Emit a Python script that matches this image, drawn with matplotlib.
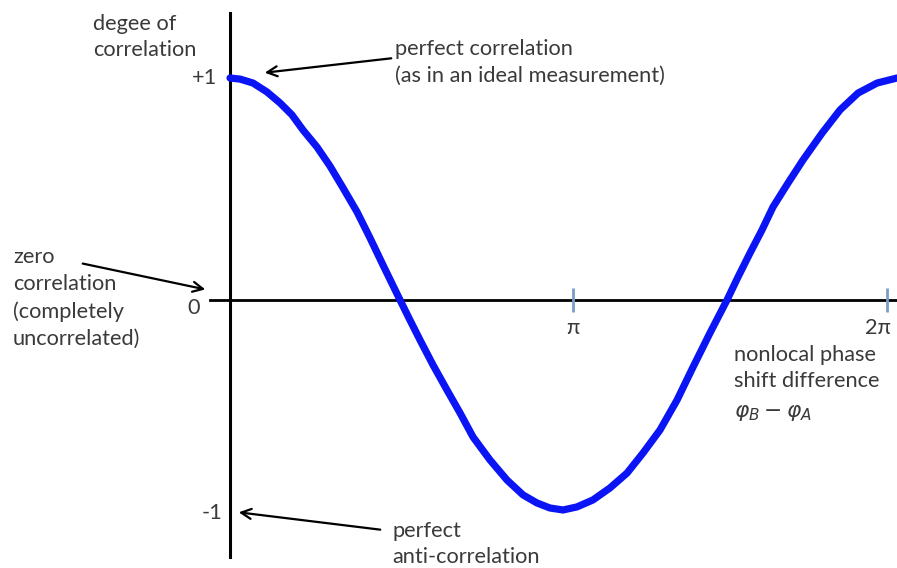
import matplotlib
matplotlib.use("Agg")
import matplotlib.pyplot as plt

plt.rcParams['font.family'] = ['Lato', 'DejaVu Sans']

# Curve: phase difference (rad) vs degree of correlation
phase = [0.000, 0.096, 0.220, 0.354, 0.478, 0.593, 0.698, 0.832, 0.956, 1.081, 1.215,
         1.339, 1.463, 1.626, 1.721, 1.817, 1.941, 2.075, 2.200, 2.324, 2.486, 2.649,
         2.802, 2.936, 3.060, 3.185, 3.318, 3.471, 3.634, 3.797, 3.950, 4.112, 4.275,
         4.428, 4.590, 4.753, 4.858, 4.973, 5.087, 5.193, 5.336, 5.480, 5.662, 5.834,
         6.006, 6.188, 6.379]
correlation = [1.016, 1.011, 0.993, 0.952, 0.902, 0.847, 0.778, 0.700, 0.613, 0.513, 0.403,
               0.284, 0.160, 0.0, -0.092, -0.183, -0.297, -0.412, -0.517, -0.627, -0.732, -0.824,
               -0.892, -0.929, -0.952, -0.961, -0.947, -0.915, -0.860, -0.792, -0.700, -0.595, -0.458,
               -0.307, -0.151, 0.0, 0.105, 0.215, 0.320, 0.426, 0.535, 0.641, 0.764, 0.870,
               0.947, 0.993, 1.016]

xtick_pos = [3.28, 6.28]
xtick_labels = ['π', '2π']
ytick_vals = [1, 0, -1]
ytick_labels = ['+1', '0', '-1']

W, H = 897, 568
fig = plt.figure(figsize=(W / 100, H / 100), dpi=100)
ax = fig.add_axes([0, 0, 1, 1])
ax.set_xlim(-230 / 104.57, 667 / 104.57)
ax.set_ylim(-268 / 218.5, 300 / 218.5)
ax.axis('off')

TXT = '#3a3a3a'
FS = 15.7
LS = 1.42


def fp(px, py):
    return (px / W, 1 - py / H)


# axes lines
ax.axvline(0, ymin=1 - 557 / H, ymax=1 - 13 / H, color='black', lw=2.2, zorder=2)
ax.axhline(0, xmin=210 / W, xmax=1, color='black', lw=2.0, zorder=2)

# x ticks
ax.vlines(xtick_pos, -0.055, 0.055, color='#7b9cc8', lw=2, zorder=3)
xlabel_px = [573, 878]
for px, lab in zip(xlabel_px, xtick_labels):
    ax.text(*fp(px, 328), lab, transform=fig.transFigure, ha='center', va='center',
            fontsize=FS, color=TXT)

# y tick labels
ypos_px = {1: (217, 78), 0: (200, 308), -1: (222, 513)}
for v, lab in zip(ytick_vals, ytick_labels):
    px, py = ypos_px[v]
    ax.text(*fp(px, py), lab, transform=fig.transFigure, ha='right', va='center',
            fontsize=FS, color=TXT)

# curve
ax.plot(phase, correlation, color='#0a14f5', lw=5.2, solid_capstyle='round',
        solid_joinstyle='round', zorder=4)

# texts
ax.text(*fp(93, 37), 'degee of\ncorrelation', transform=fig.transFigure, ha='left',
        va='center', fontsize=FS, color=TXT, linespacing=LS)
ax.text(*fp(395, 62), 'perfect correlation\n(as in an ideal measurement)', transform=fig.transFigure,
        ha='left', va='center', fontsize=FS, color=TXT, linespacing=LS)
ax.text(*fp(13, 298), 'zero\ncorrelation\n(completely\nuncorrelated)', transform=fig.transFigure,
        ha='left', va='center', fontsize=FS, color=TXT, linespacing=LS)
ax.text(*fp(734, 368), 'nonlocal phase\nshift difference', transform=fig.transFigure,
        ha='left', va='center', fontsize=FS, color=TXT, linespacing=LS)
ax.text(*fp(734, 413), r'$\varphi_B - \varphi_A$', transform=fig.transFigure,
        ha='left', va='center', fontsize=FS, color=TXT)
ax.text(*fp(392, 544), 'perfect\nanti-correlation', transform=fig.transFigure,
        ha='left', va='center', fontsize=FS, color=TXT, linespacing=LS)

# arrows
arrow = dict(arrowstyle='->', color='black', lw=1.6, mutation_scale=18)
ax.annotate('', xy=fp(262, 73), xytext=fp(394, 58), xycoords='figure fraction',
            textcoords='figure fraction', arrowprops=arrow)
ax.annotate('', xy=fp(208, 290), xytext=fp(80, 263), xycoords='figure fraction',
            textcoords='figure fraction', arrowprops=arrow)
ax.annotate('', xy=fp(236, 512), xytext=fp(383, 530), xycoords='figure fraction',
            textcoords='figure fraction', arrowprops=arrow)

fig.savefig('out.png', dpi=100, facecolor='white')
